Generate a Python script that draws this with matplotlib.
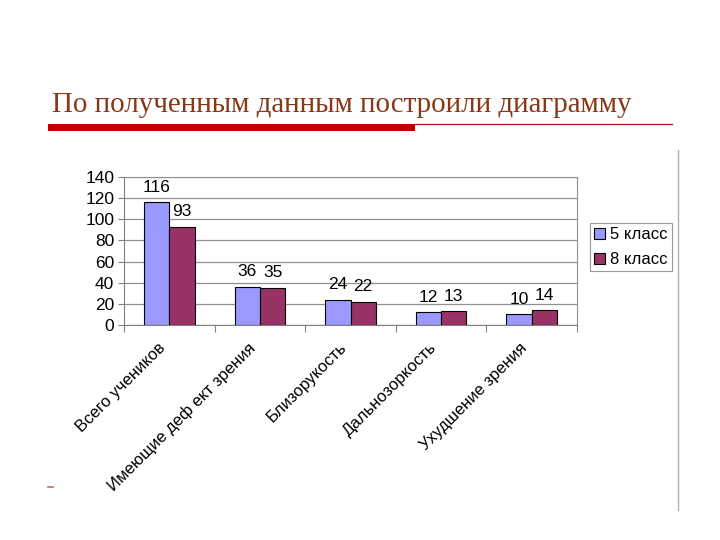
import matplotlib.pyplot as plt
from matplotlib.patches import Rectangle
import matplotlib.transforms as mtransforms
import numpy as np

categories = ['Всего учеников', 'Имеющие деф ект зрения', 'Близорукость',
              'Дальнозоркость', 'Ухудшение зрения']
grade5 = [116, 36, 24, 12, 10]
grade8 = [93, 35, 22, 13, 14]
series_names = ['5 класс', '8 класс']
yticks = [0, 20, 40, 60, 80, 100, 120, 140]

plt.rcParams['font.family'] = ['Liberation Sans', 'DejaVu Sans']

W, H = 720, 540
fig = plt.figure(figsize=(7.2, 5.4), dpi=100)

def px(x0, y0, x1, y1):
    # pixel box (top-left origin) -> figure fraction
    return [x0 / W, 1 - y1 / H, (x1 - x0) / W, (y1 - y0) / H]

# slide title and decorations
fig.text(52 / W, 1 - 112 / H, 'По полученным данным построили диаграмму',
         family='Liberation Serif', fontsize=20.9, color='#873818', va='baseline')
fig.add_artist(Rectangle((48 / W, 1 - 131 / H), (415 - 48) / W, 7 / H,
                         transform=fig.transFigure, color='#C00000', lw=0))
fig.add_artist(plt.Line2D([415 / W, 672 / W], [1 - 123.5 / H] * 2,
                          transform=fig.transFigure, color='#9B1B1B', lw=0.9))
fig.add_artist(plt.Line2D([678 / W] * 2, [1 - 150 / H, 1 - 510 / H],
                          transform=fig.transFigure, color='#B0B0B0', lw=1))
fig.add_artist(plt.Line2D([48 / W, 53 / W], [1 - 487 / H] * 2,
                          transform=fig.transFigure, color='#C07070', lw=1.2))

ax = fig.add_axes(px(124, 177, 577, 325))
x = np.arange(len(categories))
w = 0.28
b5 = ax.bar(x - w / 2, grade5, w, color='#9999FF', edgecolor='black', lw=0.8,
            label=series_names[0], zorder=3)
b8 = ax.bar(x + w / 2, grade8, w, color='#993366', edgecolor='black', lw=0.8,
            label=series_names[1], zorder=3)
for bars in (b5, b8):
    for r in bars:
        ax.annotate(f'{int(r.get_height())}',
                    (r.get_x() + r.get_width() / 2, r.get_height()),
                    xytext=(0, 5.5), textcoords='offset points',
                    ha='center', va='bottom', fontsize=12.5)

ax.set_xlim(-0.5, len(categories) - 0.5)
ax.set_ylim(0, 140)
ax.set_yticks(yticks)
ax.tick_params(axis='y', labelsize=12.5, length=4, color='#808080', pad=3)
ax.yaxis.grid(True, color='#909090', lw=0.9, zorder=0)
for s in ax.spines.values():
    s.set_color('#909090')
ax.spines['left'].set_color('#808080')
ax.spines['bottom'].set_color('#808080')

ax.set_xticks(np.arange(len(categories) + 1) - 0.5, minor=False)
ax.set_xticklabels([])
ax.tick_params(axis='x', length=5, color='#808080')
ax.set_xticks(x, minor=True)
ax.set_xticklabels(categories, minor=True, rotation=45, ha='right',
                   rotation_mode='anchor', fontsize=12)
ax.tick_params(axis='x', which='minor', length=0, pad=8)
shift = mtransforms.ScaledTranslation(-12 / 100, -4 / 100, fig.dpi_scale_trans)
for lab in ax.get_xticklabels(minor=True):
    lab.set_transform(lab.get_transform() + shift)

leg = fig.legend(handles=[b5, b8], loc='upper left',
                 bbox_to_anchor=(590 / W, 1 - 223 / H), fontsize=12,
                 frameon=True, fancybox=False, edgecolor='#808080',
                 handlelength=0.65, handleheight=0.65, handletextpad=0.3,
                 borderpad=0.25, labelspacing=0.6, borderaxespad=0)
leg.get_frame().set_linewidth(0.8)

fig.savefig('out.png', dpi=100)
